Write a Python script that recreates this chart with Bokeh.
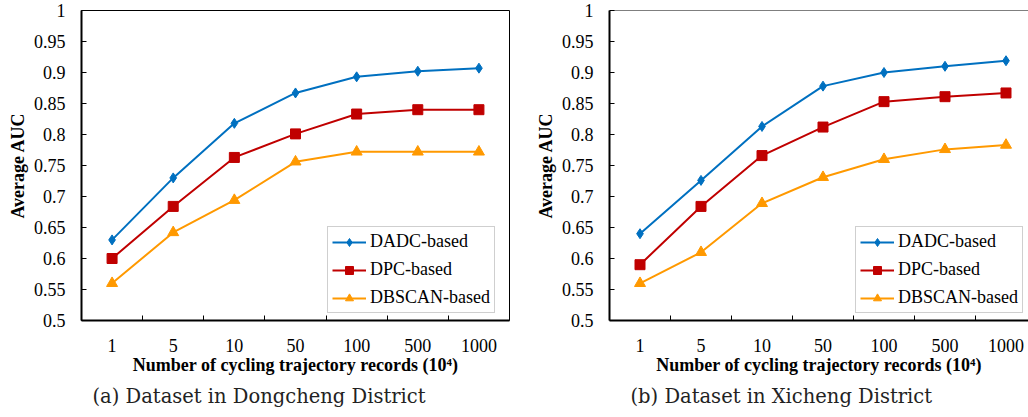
from bokeh.plotting import figure
from bokeh.layouts import row
from bokeh.models import Range1d, FixedTicker, Span, Title, Legend, LegendItem
from bokeh.embed import file_html
from bokeh.resources import INLINE

categories = ["1", "5", "10", "50", "100", "500", "1000"]
y_ticks = [0.5, 0.55, 0.6, 0.65, 0.7, 0.75, 0.8, 0.85, 0.9, 0.95, 1.0]
y_tick_labels = ["0.5", "0.55", "0.6", "0.65", "0.7", "0.75", "0.8", "0.85", "0.9", "0.95", "1"]
series_names = ["DADC-based", "DPC-based", "DBSCAN-based"]

dongcheng_dadc = [0.630, 0.730, 0.818, 0.867, 0.893, 0.902, 0.907]
dongcheng_dpc = [0.600, 0.684, 0.763, 0.801, 0.833, 0.840, 0.840]
dongcheng_dbscan = [0.560, 0.642, 0.694, 0.756, 0.772, 0.772, 0.772]

xicheng_dadc = [0.640, 0.726, 0.813, 0.878, 0.900, 0.910, 0.919]
xicheng_dpc = [0.590, 0.684, 0.766, 0.812, 0.853, 0.861, 0.867]
xicheng_dbscan = [0.560, 0.610, 0.689, 0.731, 0.760, 0.776, 0.783]

x_label = "Number of cycling trajectory records (10\u2074)"
y_label = "Average AUC"
captions = ["(a) Dataset in Dongcheng District", "(b) Dataset in Xicheng District"]

colors = ["#0070C0", "#C00000", "#FF9900"]
markers = ["diamond", "square", "triangle"]
msizes = [10, 10, 11]
SERIF = "Liberation Serif"
CAPFONT = "DejaVu Serif"


def make_panel(series, caption, width, border_left, border_right, x_end, cap_offset, full_outline):
    p = figure(width=width, height=417, x_range=Range1d(0, x_end), y_range=Range1d(0.5, 1.0),
               output_backend="svg", toolbar_location=None,
               min_border_left=border_left, min_border_right=border_right,
               min_border_top=10, min_border_bottom=97)
    p.grid.visible = False
    p.background_fill_color = "white"
    p.border_fill_color = "white"
    if full_outline:
        p.outline_line_color = "black"
        p.outline_line_width = 1
    else:
        p.outline_line_color = None
        p.add_layout(Span(location=1.0, dimension="width", line_color="black", line_width=1))

    xs = [i + 0.5 for i in range(len(categories))]
    items = []
    for vals, name, c, m, s in zip(series, series_names, colors, markers, msizes):
        r1 = p.line(xs, vals, line_color=c, line_width=2)
        r2 = p.scatter(xs, vals, marker=m, size=s, fill_color=c, line_color=c)
        items.append(LegendItem(label=name, renderers=[r1, r2]))

    # x axis
    xa = p.xaxis[0]
    xa.ticker = FixedTicker(ticks=xs, minor_ticks=[1, 2, 3, 4, 5, 6])
    xa.major_label_overrides = {x: c for x, c in zip(xs, categories)}
    xa.major_tick_in = 0
    xa.major_tick_out = 0
    xa.minor_tick_in = 5
    xa.minor_tick_out = 0
    xa.minor_tick_line_color = "black"
    xa.axis_line_width = 2
    xa.axis_line_color = "black"
    xa.major_label_standoff = 18
    xa.major_label_text_font = SERIF
    xa.major_label_text_font_size = "18px"
    xa.major_label_text_color = "black"
    xa.axis_label = x_label
    xa.axis_label_text_font = SERIF
    xa.axis_label_text_font_style = "bold"
    xa.axis_label_text_font_size = "18px"
    xa.axis_label_text_color = "black"
    xa.axis_label_standoff = 0

    ya = p.yaxis[0]
    ya.ticker = FixedTicker(ticks=y_ticks)
    ya.major_label_overrides = {t: l for t, l in zip(y_ticks, y_tick_labels)}
    ya.major_tick_in = 5
    ya.major_tick_out = 0
    ya.minor_tick_line_color = None
    ya.axis_line_width = 2
    ya.axis_line_color = "black"
    ya.major_label_standoff = 16
    ya.major_label_text_font = SERIF
    ya.major_label_text_font_size = "18px"
    ya.major_label_text_color = "black"
    ya.axis_label = y_label
    ya.axis_label_text_font = SERIF
    ya.axis_label_text_font_style = "bold"
    ya.axis_label_text_font_size = "18px"
    ya.axis_label_text_color = "black"
    ya.axis_label_standoff = 3

    leg = Legend(items=items, location=(246, 7), orientation="vertical")
    leg.label_text_font = SERIF
    leg.label_text_font_size = "18px"
    leg.label_text_color = "black"
    leg.glyph_width = 34
    leg.glyph_height = 20
    leg.label_height = 20
    leg.label_standoff = 4
    leg.spacing = 7
    leg.padding = 4
    leg.margin = 0
    leg.border_line_color = "#A0A0A0"
    leg.border_line_width = 1
    leg.background_fill_alpha = 1
    p.add_layout(leg, "center")

    cap = Title(text=caption, align="left", offset=cap_offset, text_font=CAPFONT,
                text_font_size="19.5px", text_font_style="normal", text_color="#222222",
                standoff=11)
    p.add_layout(cap, "below")
    return p


p1 = make_panel([dongcheng_dadc, dongcheng_dpc, dongcheng_dbscan], captions[0],
                530, 81, 21, 7.0, 11, True)
p2 = make_panel([xicheng_dadc, xicheng_dpc, xicheng_dbscan], captions[1],
                498, 79, 0, 419 / 61.0, 21, False)

layout = row(p1, p2, spacing=0)
open("out.html", "w").write(file_html(layout, INLINE))
